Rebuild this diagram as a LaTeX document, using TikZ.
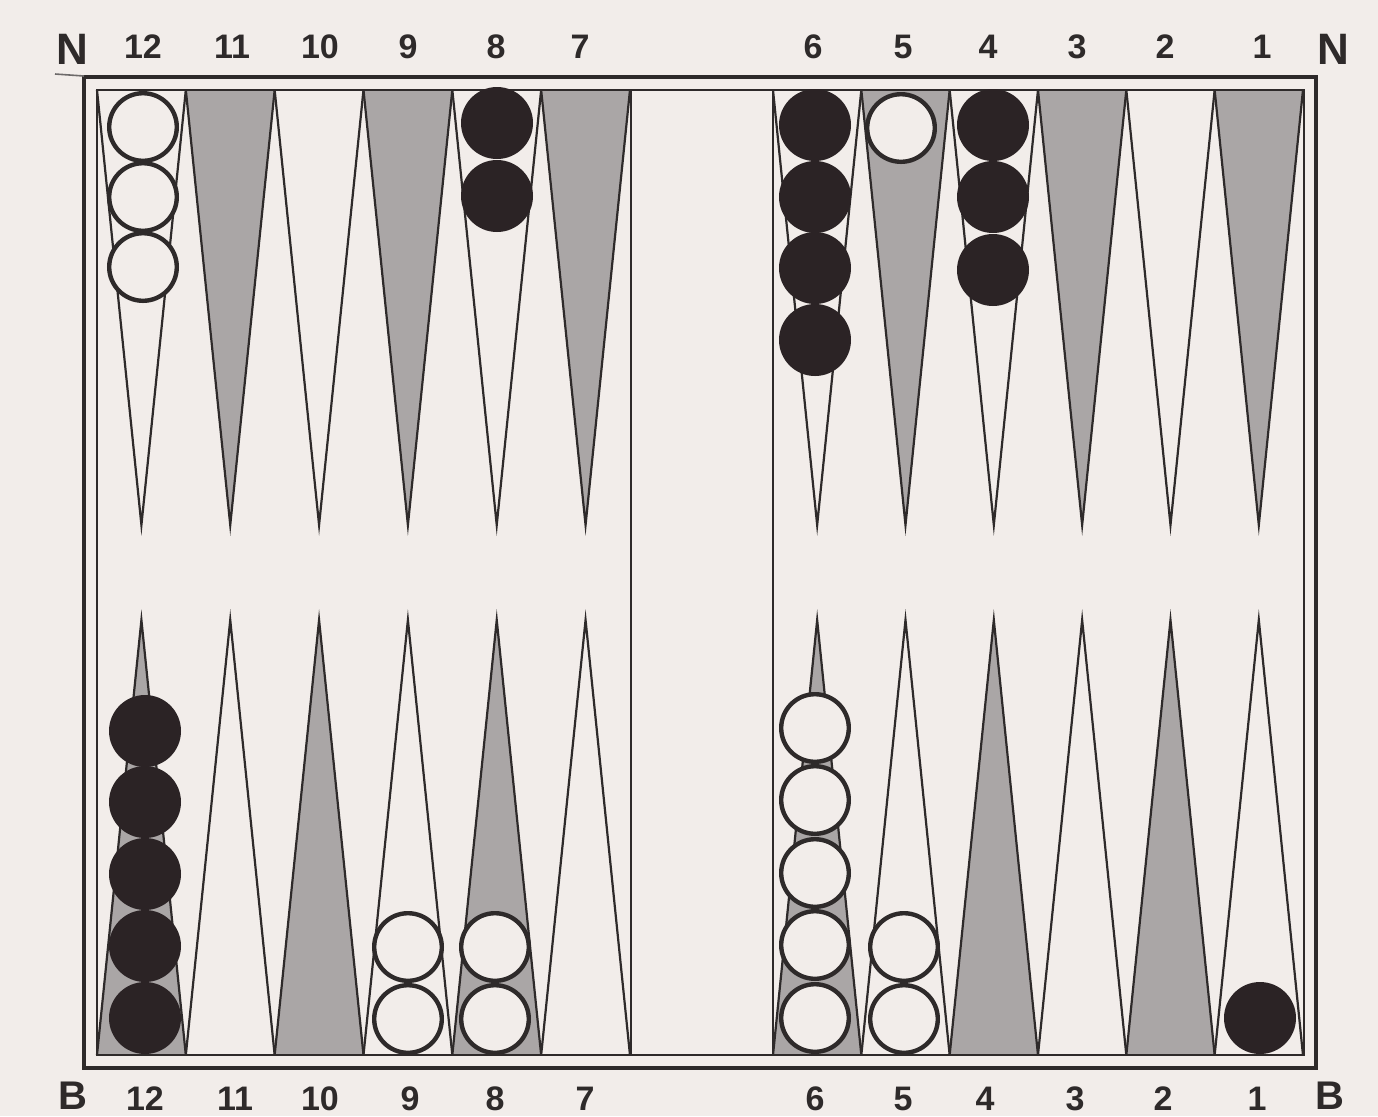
\documentclass[tikz,border=0pt]{standalone}
\usepackage{fontspec}
\setmainfont{Liberation Sans}
\definecolor{paper}{HTML}{F2EDEA}
\definecolor{pointgray}{HTML}{AAA6A6}
\definecolor{ink}{HTML}{2E2A2A}
\definecolor{chkblack}{HTML}{2B2325}
\begin{document}
\begin{tikzpicture}[x=0.5pt,y=-0.5pt,
  wchk/.style={circle,draw=ink,line width=2.2pt,fill=paper,minimum size=33.8pt,inner sep=0pt},
  bchk/.style={circle,fill=chkblack,minimum size=36pt,inner sep=0pt},
  tri/.style={draw=ink,line width=1.1pt,line join=miter},
  numlab/.style={font=\bfseries\fontsize{17}{17}\selectfont,text=ink,inner sep=0pt},
  sidelab/.style={font=\bfseries\fontsize{22}{22}\selectfont,text=ink,inner sep=0pt},
  botsidelab/.style={font=\bfseries\fontsize{20}{20}\selectfont,text=ink,inner sep=0pt},
  outerframe/.style={draw=ink,line width=2.3pt},
  innerframe/.style={draw=ink,line width=1.3pt}]
\useasboundingbox (0,0) rectangle (1378,1116);
\fill[paper] (0,0) rectangle (1378,1116);
% points, left half
\foreach \i in {0,...,5}{
  \pgfmathsetmacro{\xa}{97+\i*88.83}
  \pgfmathsetmacro{\xb}{97+(\i+1)*88.83}
  \pgfmathsetmacro{\xm}{97+(\i+0.5)*88.83}
  \pgfmathtruncatemacro{\parity}{mod(\i,2)}
  \ifnum\parity=0
    \draw[tri,fill=paper] (\xa,90) -- (\xm,525) -- (\xb,90);
    \draw[tri,fill=pointgray] (\xa,1055) -- (\xm,620) -- (\xb,1055);
  \else
    \draw[tri,fill=pointgray] (\xa,90) -- (\xm,525) -- (\xb,90);
    \draw[tri,fill=paper] (\xa,1055) -- (\xm,620) -- (\xb,1055);
  \fi
}
% points, right half
\foreach \i in {0,...,5}{
  \pgfmathsetmacro{\xa}{773+\i*88.33}
  \pgfmathsetmacro{\xb}{773+(\i+1)*88.33}
  \pgfmathsetmacro{\xm}{773+(\i+0.5)*88.33}
  \pgfmathtruncatemacro{\parity}{mod(\i,2)}
  \ifnum\parity=0
    \draw[tri,fill=paper] (\xa,90) -- (\xm,525) -- (\xb,90);
    \draw[tri,fill=pointgray] (\xa,1055) -- (\xm,620) -- (\xb,1055);
  \else
    \draw[tri,fill=pointgray] (\xa,90) -- (\xm,525) -- (\xb,90);
    \draw[tri,fill=paper] (\xa,1055) -- (\xm,620) -- (\xb,1055);
  \fi
}
% bar
\draw[ink,line width=0.9pt] (631,90) -- (631,1055);
\draw[ink,line width=0.9pt] (773,90) -- (773,1055);
% frames
\draw[innerframe] (97,90) rectangle (1304,1055);
\draw[outerframe] (84,77) rectangle (1316,1068);
\draw[ink!70,line width=0.8pt] (55,74) -- (84,76);
% top checkers
\node[wchk] (t12a) at (143,127) {};
\node[wchk] (t12b) at (143,197) {};
\node[wchk] (t12c) at (143,267) {};
\node[bchk] (t8a) at (497,123) {};
\node[bchk] (t8b) at (497,196) {};
\node[bchk] (t6a) at (815,125) {};
\node[bchk] (t6b) at (815,197) {};
\node[bchk] (t6c) at (815,268) {};
\node[bchk] (t6d) at (815,340) {};
\node[wchk] (t5a) at (901,128) {};
\node[bchk] (t4a) at (993,125) {};
\node[bchk] (t4b) at (993,197) {};
\node[bchk] (t4c) at (993,270) {};
% bottom checkers
\node[bchk] (b12a) at (145,1018) {};
\node[bchk] (b12b) at (145,946) {};
\node[bchk] (b12c) at (145,874) {};
\node[bchk] (b12d) at (145,802) {};
\node[bchk] (b12e) at (145,731) {};
\node[wchk] (b9a) at (408,1019) {};
\node[wchk] (b9b) at (408,947) {};
\node[wchk] (b8a) at (495,1019) {};
\node[wchk] (b8b) at (495,947) {};
\node[wchk] (b6a) at (815,1018) {};
\node[wchk] (b6b) at (815,945) {};
\node[wchk] (b6c) at (815,873) {};
\node[wchk] (b6d) at (815,800) {};
\node[wchk] (b6e) at (815,728) {};
\node[wchk] (b5a) at (904,1019) {};
\node[wchk] (b5b) at (904,947) {};
\node[bchk] (b1a) at (1260,1018) {};
% labels top
\node[sidelab] (tnl) at (72,49) {N};
\node[sidelab] (tnr) at (1333,49) {N};
\node[numlab] (tl12) at (143,47) {12};
\node[numlab] (tl11) at (232,47) {11};
\node[numlab] (tl10) at (320,47) {10};
\node[numlab] (tl9) at (408,47) {9};
\node[numlab] (tl8) at (496,47) {8};
\node[numlab] (tl7) at (580,47) {7};
\node[numlab] (tl6) at (813,47) {6};
\node[numlab] (tl5) at (903,47) {5};
\node[numlab] (tl4) at (988,47) {4};
\node[numlab] (tl3) at (1077,47) {3};
\node[numlab] (tl2) at (1165,47) {2};
\node[numlab] (tl1) at (1262,47) {1};
% labels bottom
\node[botsidelab] (bbl) at (73,1096) {B};
\node[botsidelab] (bbr) at (1330,1096) {B};
\node[numlab] (bl12) at (145,1099) {12};
\node[numlab] (bl11) at (235,1099) {11};
\node[numlab] (bl10) at (320,1099) {10};
\node[numlab] (bl9) at (410,1099) {9};
\node[numlab] (bl8) at (495,1099) {8};
\node[numlab] (bl7) at (585,1099) {7};
\node[numlab] (bl6) at (815,1099) {6};
\node[numlab] (bl5) at (903,1099) {5};
\node[numlab] (bl4) at (985,1099) {4};
\node[numlab] (bl3) at (1075,1099) {3};
\node[numlab] (bl2) at (1163,1099) {2};
\node[numlab] (bl1) at (1257,1099) {1};
\end{tikzpicture}
\end{document}
